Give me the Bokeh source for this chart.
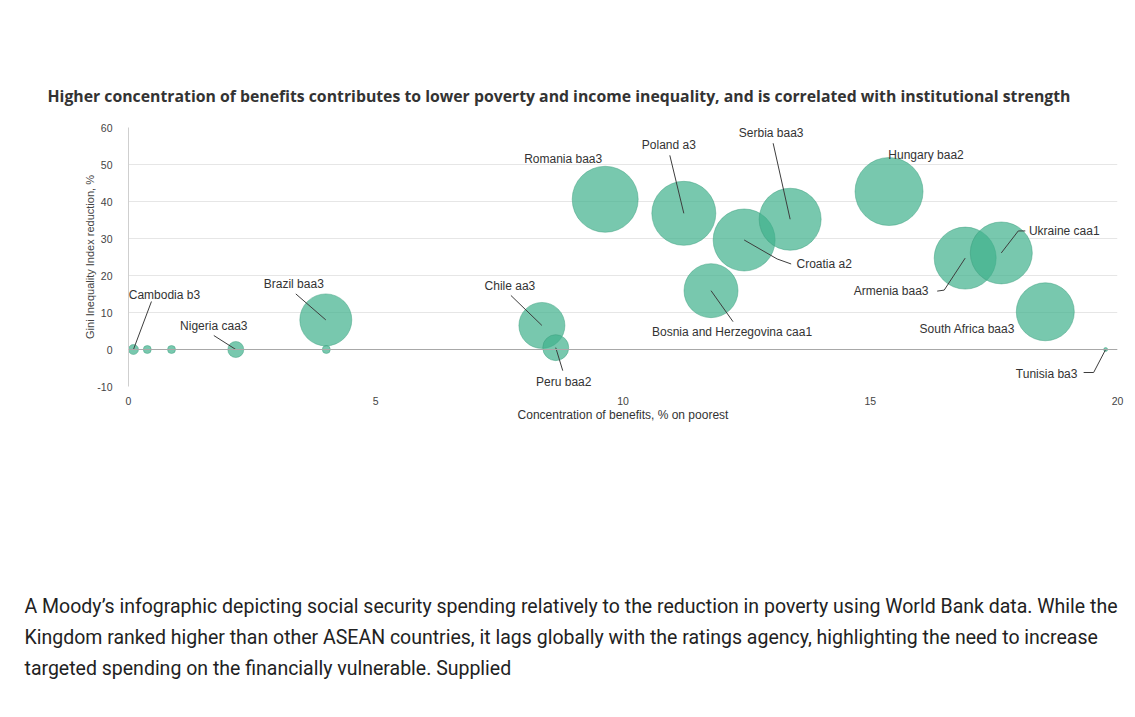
import numpy as np
from bokeh.plotting import figure
from bokeh.models import Title, LabelSet, Span, ColumnDataSource, Range1d, FixedTicker
from bokeh.embed import file_html
from bokeh.resources import INLINE
from bokeh.core.properties import value

# ---------------- data ----------------
names = ["Cambodia b3", "", "", "Nigeria caa3", "", "Brazil baa3", "Chile aa3", "Peru baa2",
         "Romania baa3", "Poland a3", "Croatia a2", "Serbia baa3", "Bosnia and Herzegovina caa1",
         "Hungary baa2", "Armenia baa3", "Ukraine caa1", "South Africa baa3", "Tunisia ba3"]
concentration = [0.1, 0.38, 0.87, 2.17, 4.0, 3.99, 8.36, 8.64,
                 9.64, 11.23, 12.45, 13.38, 11.78,
                 15.38, 16.92, 17.65, 18.54, 19.76]
gini_reduction = [0.0, 0.0, 0.0, 0.0, 0.0, 8.0, 6.5, 0.5,
                  40.6, 36.8, 29.6, 35.2, 15.9,
                  42.7, 24.7, 26.1, 10.2, 0.0]
bubble = [10, 8, 8, 16, 8, 52, 46, 26,
          66, 64, 62, 62, 54,
          68, 62, 62, 58, 4]

x_ticks = [0, 5, 10, 15, 20]
y_ticks = [-10, 0, 10, 20, 30, 40, 50, 60]
y_tick_labels = {-10: "-10"}

title_text = ("Higher concentration of benefits contributes to lower poverty and income "
              "inequality, and is correlated with institutional strength")
caption_lines = [
    "A Moody\u2019s infographic depicting social security spending relatively to the reduction in poverty using World Bank data. While the",
    "Kingdom ranked higher than other ASEAN countries, it lags globally with the ratings agency, highlighting the need to increase",
    "targeted spending on the financially vulnerable. Supplied",
]

# ---------------- layout (label placement, px offsets from the bubble) ----------------
label_layout = {
    "Cambodia b3": ((31, -55), [(18, -48)]),
    "Nigeria caa3": ((-22, -24), [(-22, -14)]),
    "Brazil baa3": ((-32, -36), [(-30, -26)]),
    "Chile aa3": ((-32, -39), [(-31, -30)]),
    "Peru baa2": ((8, 34), [(7, 23)]),
    "Romania baa3": ((-42, -40), []),
    "Poland a3": ((-15, -68), [(-14, -58)]),
    "Serbia baa3": ((-19, -86), [(-17, -76)]),
    "Croatia a2": ((80, 24), [(33, 19), (47, 24)]),
    "Bosnia and Herzegovina caa1": ((21, 41), [(22, 31)]),
    "Hungary baa2": ((37, -37), []),
    "Armenia baa3": ((-74, 33), [(-21, 32), (-28, 33)]),
    "Ukraine caa1": ((63, -22), [(17, -22), (24, -22)]),
    "South Africa baa3": ((-78, 17), []),
    "Tunisia ba3": ((-59, 24), [(-12, 23), (-22, 23)]),
}

W, H = 1125, 710
ML, MT = 128, 127
MR, MB = W - 1117, H - 386
XMIN, XMAX, YMIN, YMAX = 0, 20, -10, 60
fw, fh = W - ML - MR, H - MT - MB
xs, ys = fw / (XMAX - XMIN), fh / (YMAX - YMIN)

p = figure(width=W, height=H, x_range=Range1d(XMIN, XMAX), y_range=Range1d(YMIN, YMAX),
           output_backend="svg", toolbar_location=None,
           min_border_left=ML, min_border_right=MR, min_border_top=MT, min_border_bottom=MB)
p.outline_line_color = None
p.background_fill_color = "white"
p.border_fill_color = "white"

# title
p.title.text = title_text
p.title.align = "left"
p.title.offset = 47 - ML
p.title.standoff = 42
p.title.text_font = "Open Sans"
p.title.text_font_style = "bold"
p.title.text_font_size = "15.8px"
p.title.text_color = "#333333"

# grid
p.xgrid.grid_line_color = None
p.ygrid.grid_line_color = "#e6e6e6"
p.ygrid.ticker = FixedTicker(ticks=y_ticks)
p.add_layout(Span(location=0, dimension="width", line_color="#a8a8a8", line_width=1))

# axes
tick_font = "Liberation Sans"
p.xaxis.ticker = FixedTicker(ticks=x_ticks)
p.xaxis.axis_line_color = None
p.xaxis.major_tick_line_color = None
p.xaxis.minor_tick_line_color = None
p.xaxis.major_label_text_font = tick_font
p.xaxis.major_label_text_font_size = "10.5px"
p.xaxis.major_label_text_color = "#444444"
p.xaxis.major_label_standoff = 4
p.xaxis.axis_label = "Concentration of benefits, % on poorest"
p.xaxis.axis_label_text_font = tick_font
p.xaxis.axis_label_text_font_size = "12px"
p.xaxis.axis_label_text_font_style = "normal"
p.xaxis.axis_label_text_color = "#333333"
p.xaxis.axis_label_standoff = 0

p.yaxis.ticker = FixedTicker(ticks=y_ticks)
p.yaxis.major_label_overrides = y_tick_labels
p.yaxis.axis_line_color = "#cfcfcf"
p.yaxis.major_tick_line_color = None
p.yaxis.minor_tick_line_color = None
p.yaxis.major_label_text_font = tick_font
p.yaxis.major_label_text_font_size = "10.5px"
p.yaxis.major_label_text_color = "#444444"
p.yaxis.major_label_standoff = 10
p.yaxis.axis_label = "Gini Inequality Index reduction, %"
p.yaxis.axis_label_text_font = tick_font
p.yaxis.axis_label_text_font_size = "11px"
p.yaxis.axis_label_text_font_style = "normal"
p.yaxis.axis_label_text_color = "#444444"
p.yaxis.axis_label_standoff = -2

# caption: a spacer then three stacked lines below the x axis
cap_font = dict(text_font="Roboto", text_font_size="19.5px", text_font_style="normal",
                text_color="#222222", align="left", offset=24 - ML)
p.add_layout(Title(text=" ", standoff=140, **cap_font), "below")
for line in caption_lines:
    p.add_layout(Title(text=line, standoff=6, **cap_font), "below")

# bubbles
src = ColumnDataSource(dict(x=concentration, y=gini_reduction, s=bubble, name=names))
p.scatter("x", "y", size="s", source=src, fill_color="#3fb08c", fill_alpha=0.7,
          line_color="#3a9e7c", line_alpha=0.45, line_width=1)

# leader lines and labels
lx, ly, ldx, ldy, ltext = [], [], [], [], []
mx, my = [], []
for n, x, y in zip(names, concentration, gini_reduction):
    if n not in label_layout:
        continue
    (dx, dy), path = label_layout[n]
    lx.append(x); ly.append(y); ldx.append(dx); ldy.append(-dy); ltext.append(n)
    if path:
        px_ = [x] + [x + a / xs for a, b in path]
        py_ = [y] + [y - b / ys for a, b in path]
        mx.append(px_); my.append(py_)

p.multi_line(mx, my, line_color="#3d3d3d", line_width=1)
lsrc = ColumnDataSource(dict(x=lx, y=ly, dx=ldx, dy=ldy, t=ltext))
p.add_layout(LabelSet(x="x", y="y", text="t", x_offset="dx", y_offset="dy", source=lsrc,
                      text_font=value(tick_font), text_font_size=value("12px"),
                      text_color=value("#333333"),
                      text_align="center", text_baseline="middle"))

open("out.html", "w").write(file_html(p, INLINE))
